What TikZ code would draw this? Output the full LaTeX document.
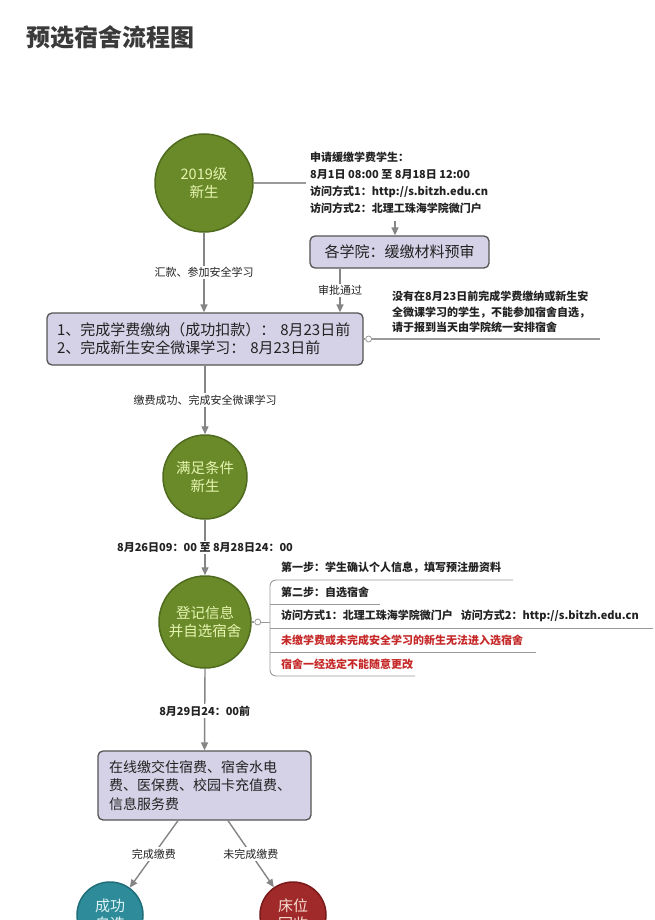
\documentclass[tikz,border=0pt]{standalone}
\usepackage{fontspec}
\setmainfont{Noto Sans CJK SC}
\usetikzlibrary{arrows.meta,calc}
\definecolor{arrowgray}{HTML}{858585}
\definecolor{linegray}{HTML}{9A9A9A}
\definecolor{textdark}{HTML}{222222}
\definecolor{titlegray}{HTML}{3A3A3A}
\definecolor{olivefill}{HTML}{6A8A2A}
\definecolor{olivedark}{HTML}{4F6B1E}
\definecolor{lightgreen}{HTML}{E6F5B0}
\definecolor{lavender}{HTML}{D5D1E6}
\definecolor{boxborder}{HTML}{555555}
\definecolor{tealfill}{HTML}{2E8B9A}
\definecolor{tealdark}{HTML}{1F6E7A}
\definecolor{tealtext}{HTML}{DDF3F3}
\definecolor{redfill}{HTML}{A02A2A}
\definecolor{reddark}{HTML}{7A1A1A}
\definecolor{redtext}{HTML}{F5DDD0}
\definecolor{itemred}{HTML}{C62828}
\newcommand\fsSmall{\fontsize{11}{17}\selectfont}
\newcommand\fsCirc{\fontsize{14.5}{18}\selectfont}
\newcommand\fsBoxA{\fontsize{15}{18}\selectfont}
\newcommand\fsBoxB{\fontsize{14}{18.5}\selectfont}
\newcommand\fsTitle{\fontsize{24}{28}\selectfont}
\tikzset{
  arr/.style={draw=arrowgray, line width=1.4pt, -{Triangle[length=8pt,width=7pt]}},
  conn/.style={draw=linegray, line width=1.1pt},
  uline/.style={draw=linegray, line width=0.9pt},
  lbl/.style={fill=white, inner sep=1.5pt, font=\fsSmall, text=textdark},
  blbl/.style={lbl, font=\fsSmall\bfseries},
  info/.style={inner sep=0pt, align=left, font=\fsSmall\bfseries, text=textdark},
  greencirc/.style={circle, fill=olivefill, draw=olivedark, line width=1.5pt,
    text=lightgreen, align=center, inner sep=0pt, font=\fsCirc},
  tealcirc/.style={circle, fill=tealfill, draw=tealdark, line width=1.5pt,
    text=tealtext, align=center, inner sep=0pt, font=\fsBoxA},
  redcirc/.style={circle, fill=redfill, draw=reddark, line width=1.5pt,
    text=redtext, align=center, inner sep=0pt, font=\fsBoxA},
  procbox/.style={rectangle, rounded corners=5pt, fill=lavender, draw=boxborder,
    line width=1.3pt, text=textdark},
  marker/.style={circle, draw=linegray, fill=white, line width=0.8pt,
    inner sep=0pt, minimum size=6pt},
  item/.style={anchor=west, inner sep=0pt, font=\fsSmall\bfseries, text=textdark},
}
\begin{document}
\begin{tikzpicture}[x=1pt,y=-1pt]
\clip (0,0) rectangle (654,920);
\fill[white] (0,0) rectangle (654,920);

% title
\node[anchor=west, inner sep=0pt, font=\fsTitle\bfseries, text=titlegray] (title) at (26,37) {预选宿舍流程图};

% circle 1
\node[greencirc, minimum size=98pt] (c1) at (204,183) {2019级\\新生};
\coordinate (i1end) at (306,183);
\draw[conn] (c1.east) -- (i1end);
\node[info, anchor=north west, font=\fsSmall\bfseries] (info1) at (310,152)
  {申请缓缴学费学生：\\8月1日 08:00 至 8月18日 12:00\\访问方式1：http://s.bitzh.edu.cn\\访问方式2：北理工珠海学院微门户};

% box 0
\node[procbox, minimum width=179pt, minimum height=32pt, font=\fsBoxA] (box0) at (399.5,252) {各学院：缓缴材料预审};
\coordinate (a0) at (395,221);
\draw[arr] (a0) -- (a0 |- box0.north);

% box 1
\node[procbox, minimum width=316pt, minimum height=52pt, text width=296pt,
  inner xsep=10pt, align=left, font=\fsBoxA] (box1) at (205,339)
  {1、完成学费缴纳（成功扣款）：  8月23日前\\2、完成新生安全微课学习：  8月23日前};
\coordinate (k340) at (340,0);
\draw[arr] (box0.south -| k340) -- (box1.north -| k340) node[lbl, midway] {审批通过};
\draw[arr] (c1.south) -- (c1.south |- box1.north) node[lbl, pos=0.5] {汇款、参加安全学习};

% box1 side note
\node[marker] (m1) at ($(box1.east)+(5,0)$) {};
\coordinate (n1end) at (600,339);
\draw[conn] (box1.east) -- (m1.west);
\draw[conn] (m1.east) -- (n1end);
\node[info, anchor=north west, font=\fontsize{11}{15.5}\selectfont\bfseries] (info2) at (392,291)
  {没有在8月23日前完成学费缴纳或新生安\\全微课学习的学生，不能参加宿舍自选，\\请于报到当天由学院统一安排宿舍};

% circle 2
\node[greencirc, minimum size=84pt] (c2) at (205,477) {满足条件\\新生};
\draw[arr] (box1.south) -- (c2.north) node[lbl, pos=0.5] {缴费成功、完成安全微课学习};

% circle 3
\node[greencirc, minimum size=92pt] (c3) at (205,622) {登记信息\\并自选宿舍};
\draw[arr] (c2.south) -- (c3.north) node[blbl, pos=0.5] {8月26日09：00 至 8月28日24：00};

% items
\node[marker] (m3) at ($(c3.east)+(6,0)$) {};
\coordinate (br) at (270,622);
\draw[conn] (c3.east) -- (m3.west);
\draw[uline] (m3.east) -- (br);
\coordinate (u1) at (513,580);
\coordinate (u2) at (380,604);
\coordinate (u3) at (653,628);
\coordinate (u4) at (536,652);
\coordinate (u5) at (415,676);
\draw[uline, rounded corners=6pt] (u1) -- (u1 -| br) -- (u5 -| br) -- (u5);
\draw[uline, rounded corners=6pt] (u2 -| br) -- (u2);
\draw[uline, rounded corners=6pt] (u3 -| br) -- (u3);
\draw[uline, rounded corners=6pt] (u4 -| br) -- (u4);
\node[item] (t1) at (281,568) {第一步：学生确认个人信息，填写预注册资料};
\node[item] (t2) at (281,592) {第二步：自选宿舍};
\node[item] (t3) at (281,616) {访问方式1：北理工珠海学院微门户\hspace{8pt}访问方式2：http://s.bitzh.edu.cn};
\node[item, text=itemred] (t4) at (281,640) {未缴学费或未完成安全学习的新生无法进入选宿舍};
\node[item, text=itemred] (t5) at (281,664) {宿舍一经选定不能随意更改};

% box 2
\node[procbox, minimum width=213pt, minimum height=69pt, text width=191pt,
  inner xsep=11pt, align=left, font=\fsBoxB] (box2) at (204.5,785.5)
  {在线缴交住宿费、宿舍水电\\费、医保费、校园卡充值费、\\信息服务费};
\draw[arr] (c3.south) -- (box2.north) node[blbl, pos=0.52] {8月29日24：00前};

% bottom circles
\node[tealcirc, minimum size=66pt] (c4) at (110,915) {成功\\自选};
\node[redcirc, minimum size=66pt] (c5) at (293,915) {床位\\回收};
\coordinate (k178) at (178,0);
\coordinate (k228) at (228,0);
\draw[arr] (box2.south -| k178) -- (c4) node[lbl, pos=0.5] {完成缴费};
\draw[arr] (box2.south -| k228) -- (c5) node[lbl, pos=0.5] {未完成缴费};
\end{tikzpicture}
\end{document}
